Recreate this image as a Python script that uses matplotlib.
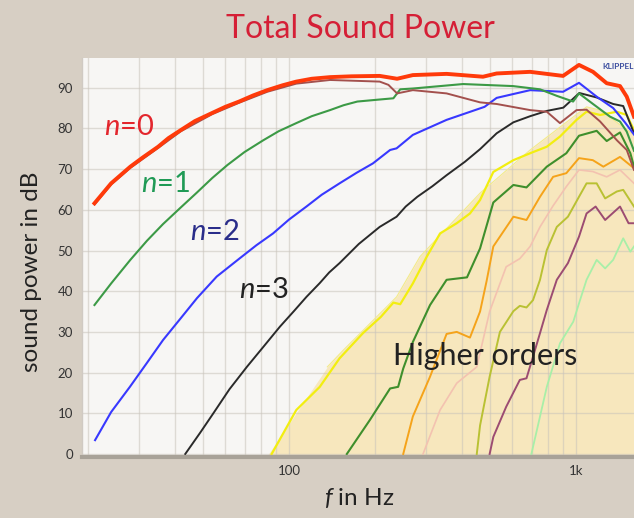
import matplotlib.pyplot as plt
from matplotlib import font_manager
from matplotlib.ticker import NullFormatter

names = {f.name for f in font_manager.fontManager.ttflist}
font = 'Lato' if 'Lato' in names else 'DejaVu Sans'
plt.rcParams['font.family'] = [font, 'DejaVu Sans']
plt.rcParams['mathtext.fontset'] = 'custom'
plt.rcParams['mathtext.rm'] = font
plt.rcParams['mathtext.it'] = font + ':italic'

# values (frequency in Hz, sound power in dB)
n0_f = [21, 24, 28, 31, 35, 38, 42, 47, 54, 60, 67, 75, 84, 95, 106, 120, 139, 165, 207, 238, 270, 354, 474, 529, 692, 901, 1024, 1146, 1279, 1423, 1502, 1592]
n0_db = [61.6, 66.5, 70.6, 72.9, 75.5, 77.6, 79.6, 81.8, 83.8, 85.3, 86.6, 88.1, 89.4, 90.6, 91.5, 92.2, 92.6, 92.8, 92.9, 92.2, 93.1, 93.4, 92.7, 93.5, 93.9, 92.9, 95.6, 93.9, 91.1, 90.4, 87.8, 82.9]

brown_f = [21, 24, 28, 35, 42, 54, 67, 84, 106, 139, 207, 222, 238, 270, 354, 463, 529, 692, 791, 879, 1004, 1088, 1213, 1387, 1502, 1592]
brown_db = [61.3, 66.2, 70.3, 75.2, 79.3, 83.5, 86.3, 89.0, 91.0, 91.9, 91.5, 90.7, 88.6, 89.4, 88.6, 86.4, 86.0, 84.5, 84.1, 81.3, 84.5, 84.6, 81.7, 77.1, 74.7, 69.8]

n1_f = [21, 24, 28, 32, 36.4, 42, 47.7, 54, 61, 70, 81.4, 92, 106, 120, 139, 155, 173, 207, 231, 244, 270, 404, 474, 603, 749, 857, 977, 1024, 1146, 1313, 1423, 1502, 1592]
n1_db = [36.6, 41.9, 47.7, 52.4, 56.5, 60.6, 64.2, 67.8, 71.0, 74.2, 77.1, 79.3, 81.3, 83.0, 84.5, 85.7, 86.6, 87.1, 87.4, 89.6, 89.8, 90.9, 90.7, 90.4, 89.6, 88.0, 86.6, 88.6, 86.0, 82.9, 81.7, 79.2, 74.5]

n2_f = [21.1, 24, 27.9, 32, 36.4, 42, 47.8, 56, 67.4, 77, 88, 100, 115, 130, 150, 172, 196, 225, 237, 270, 354, 480, 529, 692, 901, 1024, 1180, 1347, 1480, 1592]
n2_db = [3.4, 10.3, 16.5, 22.4, 28.0, 33.4, 38.3, 43.6, 48.1, 51.3, 54.2, 57.6, 60.8, 63.7, 66.5, 69.1, 71.4, 74.7, 75.1, 78.4, 82.1, 85.3, 87.5, 89.4, 89.0, 91.2, 87.8, 85.0, 81.5, 78.5]

n3_f = [43.5, 49, 54.5, 62, 71.3, 82, 93, 104, 115, 128, 138, 150, 175, 207, 237, 255, 280, 316, 354, 410, 463, 529, 605, 692, 791, 903, 1027, 1180, 1347, 1460, 1592]
n3_db = [0, 5.2, 10, 15.9, 21.4, 26.6, 31.3, 35.1, 38.6, 42.0, 44.6, 46.9, 51.6, 55.8, 58.3, 60.8, 63.2, 65.8, 68.5, 71.8, 74.9, 78.8, 81.5, 83.0, 84.3, 85.1, 88.7, 87.6, 86.0, 85.5, 78.8]

n4_f = [87, 106, 128, 150, 181, 209, 231, 244, 270, 302, 336, 384, 427, 463, 515, 605, 692, 791, 879, 1004, 1088, 1213, 1387, 1502, 1592]
n4_db = [0, 10.8, 16.5, 23.5, 29.7, 33.7, 37.2, 36.8, 41.9, 48.5, 54.2, 56.7, 59.1, 62.4, 69.3, 72.2, 73.9, 75.5, 78.0, 82.1, 84.1, 83.3, 84.1, 83.3, 79.6]

n5_f = [159, 191.5, 225, 240, 250, 270, 310, 354, 417, 463, 515, 605, 672, 791, 925, 1024, 1180, 1279, 1423, 1546, 1592]
n5_db = [0, 8.4, 16.1, 16.5, 21.0, 27.5, 36.6, 42.8, 43.4, 50.5, 61.8, 66.1, 65.5, 70.6, 73.9, 78.2, 79.4, 76.9, 79.0, 73.9, 70.6]

n6_f = [250, 270, 310, 354, 384, 427, 463, 488, 515, 605, 672, 749, 832, 925, 1024, 1144, 1245, 1423, 1592]
n6_db = [0, 9.2, 19.0, 29.5, 30.0, 28.6, 35.0, 42.5, 51.0, 58.3, 57.5, 63.2, 68.1, 69.0, 72.7, 72.2, 70.6, 73.0, 70.2]

n7_f = [293, 336, 384, 451, 500, 571, 637, 692, 749, 832, 925, 1024, 1144, 1279, 1423, 1592]
n7_db = [0, 10.8, 17.4, 21.4, 35.0, 46.0, 48.0, 51.0, 55.8, 61.0, 65.7, 69.8, 69.4, 68.1, 69.8, 66.5]

n8_f = [451, 463, 500, 543, 605, 637, 672, 708, 749, 791, 857, 937, 1024, 1088, 1180, 1263, 1387, 1460, 1592]
n8_db = [0, 7.0, 19.0, 30.0, 35.1, 36.4, 36.0, 37.8, 42.8, 50.1, 55.8, 58.3, 63.2, 66.5, 66.5, 62.8, 64.5, 64.9, 60.8]

n9_f = [500, 515, 571, 637, 672, 708, 749, 791, 857, 937, 1024, 1088, 1170, 1263, 1423, 1524, 1592]
n9_db = [0, 4.2, 11.6, 18.2, 18.6, 23.9, 29.7, 35.4, 42.8, 46.9, 53.4, 59.1, 60.8, 57.5, 60.8, 56.7, 56.7]

n10_f = [699, 791, 879, 978, 1024, 1088, 1180, 1263, 1347, 1460, 1546, 1592]
n10_db = [0, 16.5, 27.2, 32.5, 37.0, 42.8, 47.7, 45.6, 47.7, 53.0, 49.7, 51.0]

# edge of the "higher orders" shaded area
shade_f = [83, 136, 155, 237, 286, 463, 692, 1088, 1213, 1592]
shade_db = [-1, 21.4, 25.6, 38.6, 48.5, 64.1, 74.7, 85.3, 84.5, 78.4]

W, H = 634, 518
fig = plt.figure(figsize=(W / 100, H / 100), dpi=100, facecolor='#d7cfc4')
ax = fig.add_axes([82 / W, 1 - 457 / H, (W - 82) / W, (457 - 58) / H])
ax.set_facecolor('#f7f6f4')
ax.set_xscale('log')
ax.set_xlim(19.0, 1592)
ax.set_ylim(-0.74, 97.3)

ax.fill_between(shade_f, -1, shade_db, color='#f7e7bd', lw=0)
ax.plot(shade_f[1:], shade_db[1:], color='#f3ea8a', lw=0.8)

# higher orders
ax.plot(n10_f, n10_db, color='#a8efa8', lw=1.3)
ax.plot(n9_f, n9_db, color='#9c4c72', lw=1.4)
ax.plot(n8_f, n8_db, color='#b9c133', lw=1.4)
ax.plot(n7_f, n7_db, color='#f3c2b0', lw=1.2)
ax.plot(n6_f, n6_db, color='#f5a31a', lw=1.4)
ax.plot(n5_f, n5_db, color='#3f8f2c', lw=1.5)
ax.plot(n4_f, n4_db, color='#f2ee10', lw=1.6)

ax.plot(n3_f, n3_db, color='#2a2a2a', lw=1.4)
ax.plot(n2_f, n2_db, color='#3838ff', lw=1.5)
ax.plot(n1_f, n1_db, color='#3c9a46', lw=1.5)
ax.plot(brown_f, brown_db, color='#a3504d', lw=1.4)
ax.plot(n0_f, n0_db, color='#ff3a0a', lw=2.8)

ax.set_xticks([100, 1000])
ax.set_xticklabels(['100', '1k'])
ax.set_xticks([20, 30, 40, 50, 60, 70, 80, 90, 200, 300, 400, 500, 600, 700, 800, 900], minor=True)
ax.xaxis.set_minor_formatter(NullFormatter())
ax.set_yticks(range(0, 100, 10))
ax.grid(which='both', axis='both', color='#c9c3bb', alpha=0.55, lw=1)
ax.tick_params(which='both', length=0, labelsize=9.5, colors='#333333')
ax.tick_params(axis='y', pad=6.5)
ax.tick_params(axis='x', pad=5.5)

for side in ['top', 'right']:
    ax.spines[side].set_visible(False)
ax.spines['left'].set_color('#d0cac3')
ax.spines['left'].set_linewidth(1)
ax.spines['bottom'].set_color('#a8a298')
ax.spines['bottom'].set_linewidth(3)


def px(x, y):
    return x / W, 1 - y / H


fig.text(*px(360, 38), 'Total Sound Power', color='#d51f36', fontsize=23, ha='center', va='baseline')
fig.text(*px(359, 505), r'$\mathit{f}$ in Hz', color='#222222', fontsize=17.5, ha='center', va='baseline')
fig.text(*px(32, 272), 'sound power in dB', color='#222222', fontsize=17.5, rotation=90, ha='center', va='center')

fig.text(*px(104, 135), r'$\mathit{n}$=0', color='#e3262d', fontsize=21, ha='left', va='baseline')
fig.text(*px(141, 192), r'$\mathit{n}$=1', color='#1f9a55', fontsize=21, ha='left', va='baseline')
fig.text(*px(190, 240), r'$\mathit{n}$=2', color='#2a2d8a', fontsize=21, ha='left', va='baseline')
fig.text(*px(239, 298), r'$\mathit{n}$=3', color='#222222', fontsize=21, ha='left', va='baseline')
fig.text(*px(393, 365), 'Higher orders', color='#222222', fontsize=22, ha='left', va='baseline')
fig.text(*px(602, 69), 'KLIPPEL', color='#3d4fa0', fontsize=6, fontweight='bold', ha='left', va='baseline')

fig.savefig('out.png', dpi=100, facecolor=fig.get_facecolor())
